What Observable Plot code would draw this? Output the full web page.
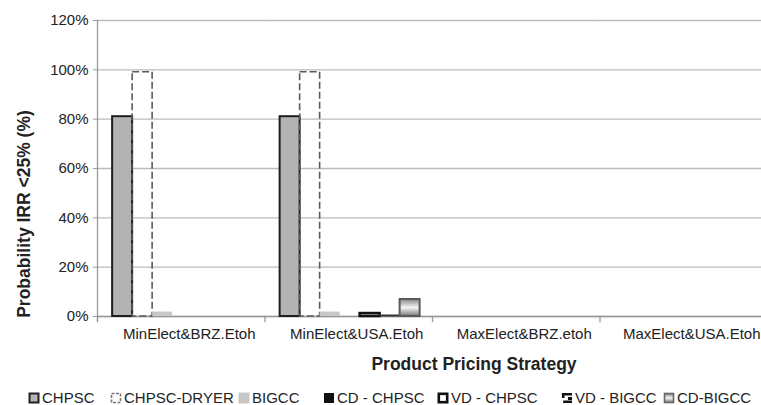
<!DOCTYPE html>
<html>
<head>
<meta charset="utf-8">
<script src="https://cdn.jsdelivr.net/npm/d3@7"></script>
<script src="https://cdn.jsdelivr.net/npm/@observablehq/plot@0.6"></script>
<style>
  body { margin: 0; background: #fff; font-family: "Liberation Sans", Arial, Helvetica, sans-serif; color: #222; }
  #chart { position: relative; width: 761px; height: 405px; overflow: hidden; }
  #chart figure, #chart svg.plot { margin: 0; }
  .axis-title { position: absolute; font-weight: bold; font-size: 17.5px; white-space: nowrap; line-height: 1; }
  #xTitle { left: 474px; top: 365px; transform: translate(-50%, -50%); }
  #yTitle { left: 25px; top: 214px; transform: translate(-50%, -50%) rotate(-90deg); }
  #legend { position: absolute; left: 0; top: 389px; width: 761px; height: 18px; font-size: 15px; }
  .item { position: absolute; top: 0; display: flex; align-items: center; white-space: nowrap; line-height: 18px; }
  .item svg { margin-right: 2px; }
</style>
</head>
<body>
<svg width="0" height="0" style="position:absolute">
  <defs>
    <linearGradient id="cdBigccFill" x1="0" y1="0" x2="0" y2="1">
      <stop offset="0" stop-color="#858585"/>
      <stop offset="0.5" stop-color="#f4f4f4"/>
      <stop offset="1" stop-color="#787878"/>
    </linearGradient>
  </defs>
</svg>
<div id="chart">
  <div id="plot"></div>
  <div class="axis-title" id="xTitle">Product Pricing Strategy</div>
  <div class="axis-title" id="yTitle">Probability IRR &lt;25% (%)</div>
  <div id="legend"></div>
</div>
<script>
// Pricing strategies (x groups) and the process configurations (bars in each group)
const categories = ["MinElect&BRZ.Etoh", "MinElect&USA.Etoh", "MaxElect&BRZ.etoh", "MaxElect&USA.Etoh"];
const series = ["CHPSC", "CHPSC-DRYER", "BIGCC", "CD - CHPSC", "VD - CHPSC", "VD - BIGCC", "CD-BIGCC"];

// Probability (%) that IRR falls below 25%, one value per strategy
const chpsc      = [81, 81, 0, 0];
const chpscDryer = [99, 99, 0, 0];
const bigcc      = [1.8, 1.8, 0, 0];
const cdChpsc    = [0, 0, 0, 0];
const vdChpsc    = [0, 1.2, 0, 0];
const vdBigcc    = [0, 0.4, 0, 0];
const cdBigcc    = [0, 6.9, 0, 0];

const yTicks = [0, 20, 40, 60, 80, 100, 120];

const seriesValues = [chpsc, chpscDryer, bigcc, cdChpsc, vdChpsc, vdBigcc, cdBigcc];

// Long table for the grouped bars
const table = categories.flatMap((category, i) =>
  series.map((s, j) => ({category, series: s, value: seriesValues[j][i]}))
);

// Visual style of each configuration
const styles = {
  "CHPSC":       {fill: "#b3b3b6", stroke: "#1e1e1e", strokeWidth: 2},
  "CHPSC-DRYER": {fill: "none", stroke: "#5a5a5a", strokeWidth: 1.6, strokeDasharray: "7,3"},
  "BIGCC":       {fill: "#c7c7c7"},
  "CD - CHPSC":  {fill: "#111"},
  "VD - CHPSC":  {fill: "#fff", stroke: "#111", strokeWidth: 2.5},
  "VD - BIGCC":  {fill: "#444", stroke: "#333", strokeWidth: 1},
  "CD-BIGCC":    {fill: "url(#cdBigccFill)", stroke: "#5a5a5a", strokeWidth: 2}
};

// One bar mark per configuration; zero values are not drawn
const bars = series.map(s =>
  Plot.barY(table, {
    filter: d => d.series === s && d.value > 0,
    fx: "category", x: "series", y: "value", ...styles[s]
  })
);

const chart = Plot.plot({
  width: 761,
  height: 382,
  marginLeft: 97,
  marginRight: -6,
  marginTop: 20,
  marginBottom: 66,
  style: {fontFamily: '"Liberation Sans", Arial, Helvetica, sans-serif', fontSize: "15px", color: "#222", background: "transparent", overflow: "visible"},
  fx: {domain: categories, padding: 0, round: false, label: null},
  x: {domain: series, paddingInner: 0, paddingOuter: 0.6875, align: 0.55, round: false, axis: null},
  y: {domain: [0, 120], label: null},
  marks: [
    Plot.gridY(yTicks, {stroke: "#bcbcbc", strokeOpacity: 1, strokeWidth: 1.3}),
    Plot.axisY(yTicks, {tickSize: 4, tickPadding: 5, stroke: "#9a9a9a", tickFormat: d => d + "%", label: null}),
    Plot.axisFx({anchor: "bottom", tickSize: 0, tickPadding: 12, dx: 8, label: null}),
    // y axis line (leftmost group only)
    Plot.frame({anchor: "left", facetAnchor: "left", stroke: "#9a9a9a", strokeWidth: 1.3, insetBottom: -5}),
    // small ticks marking the group boundaries below the baseline
    Plot.frame({anchor: "left", stroke: "#9a9a9a", strokeWidth: 1.3, insetTop: 296, insetBottom: -5}),
    Plot.ruleY([0], {stroke: "#9a9a9a", strokeWidth: 1.5}),
    ...bars
  ]
});
document.getElementById("plot").append(chart);

// Legend below the plot
const swatches = {
  "CHPSC": `<rect x="1.5" y="1.5" width="9" height="9" fill="#b3b3b6" stroke="#222" stroke-width="2"/>`,
  "CHPSC-DRYER": `<rect x="1.5" y="1.5" width="9" height="9" fill="none" stroke="#777" stroke-width="1.6" stroke-dasharray="3,1.5"/>`,
  "BIGCC": `<rect x="0.5" y="0.5" width="11" height="11" fill="#c7c7c7"/>`,
  "CD - CHPSC": `<rect x="1" y="1" width="10" height="10" fill="#111"/>`,
  "VD - CHPSC": `<rect x="1.8" y="1.8" width="8.4" height="8.4" fill="#fff" stroke="#111" stroke-width="2.6"/>`,
  "VD - BIGCC": `<path d="M11 2.2 H2.2 V6 M2.2 9.8 H11" fill="none" stroke="#111" stroke-width="2.6"/><rect x="7" y="5" width="4" height="3" fill="#111"/>`,
  "CD-BIGCC": `<rect x="1.5" y="1.5" width="9" height="9" fill="url(#cdBigccFill)" stroke="#666" stroke-width="1.6"/>`
};
const legendLeft = [28, 110, 238, 323, 437, 561, 663];
const legend = document.getElementById("legend");
series.forEach((s, i) => {
  const item = document.createElement("div");
  item.className = "item";
  item.style.left = legendLeft[i] + "px";
  item.innerHTML = `<svg width="12" height="12" viewBox="0 0 12 12">${swatches[s]}</svg><span>${s}</span>`;
  legend.append(item);
});
</script>
</body>
</html>
